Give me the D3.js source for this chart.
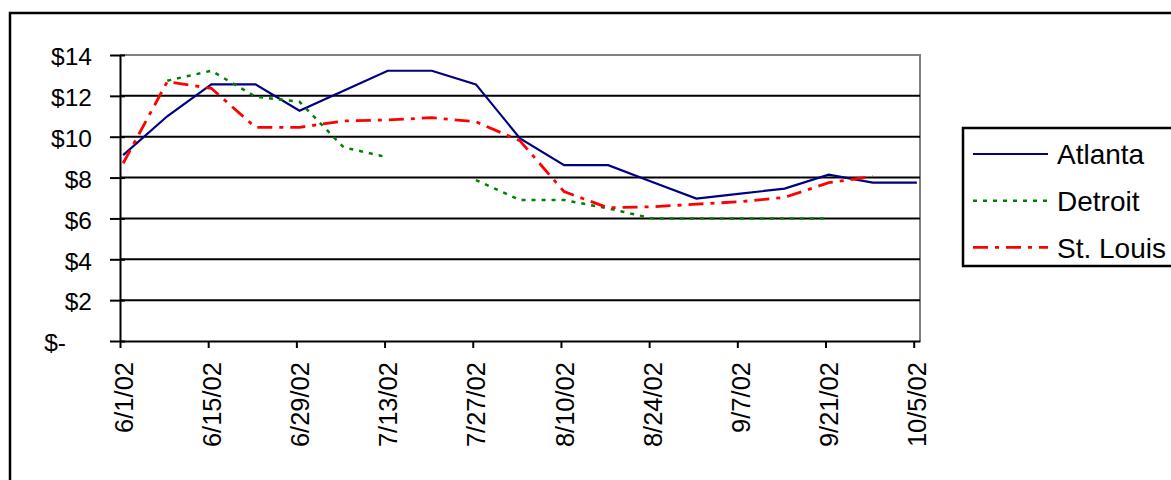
<!DOCTYPE html>
<html>
<head>
<meta charset="utf-8">
<script src="https://cdn.jsdelivr.net/npm/d3@7"></script>
<style>
  body { margin: 0; background: #fff; }
  svg { display: block; font-family: "Liberation Sans", Arial, sans-serif; }
</style>
</head>
<body>
<div class="chart"></div>
<script>
// weekly dates, 6/1/02 .. 10/5/02
var dates = ["2002-06-01","2002-06-08","2002-06-15","2002-06-22","2002-06-29","2002-07-06",
             "2002-07-13","2002-07-20","2002-07-27","2002-08-03","2002-08-10","2002-08-17",
             "2002-08-24","2002-08-31","2002-09-07","2002-09-14","2002-09-21","2002-09-28",
             "2002-10-05"];

var atlanta  = [9.1, 11.0, 12.56, 12.56, 11.27, 12.25, 13.23, 13.23, 12.56, 9.92, 8.61, 8.61,
                7.78, 6.97, 7.21, 7.46, 8.14, 7.75, 7.75];
var detroit  = [null, 12.74, 13.23, 11.96, 11.71, 9.48, 8.99, null, 7.88, 6.9, 6.9, 6.49,
                6.0, 6.0, 6.0, 6.0, 6.0, null, null];
var stlouis  = [8.7, 12.69, 12.37, 10.46, 10.46, 10.77, 10.82, 10.93, 10.73, 9.8, 7.31, 6.52,
                6.57, 6.7, 6.82, 7.03, 7.75, 8.06, null];

var seriesNames = ["Atlanta", "Detroit", "St. Louis"];

var yTicks = [0, 2, 4, 6, 8, 10, 12, 14];
var yTickLabels = ["$-", "$2", "$4", "$6", "$8", "$10", "$12", "$14"];
var xTickDates = ["2002-06-01","2002-06-15","2002-06-29","2002-07-13","2002-07-27","2002-08-10",
                  "2002-08-24","2002-09-07","2002-09-21","2002-10-05"];
var xTickLabels = ["6/1/02","6/15/02","6/29/02","7/13/02","7/27/02","8/10/02",
                   "8/24/02","9/7/02","9/21/02","10/5/02"];

var width = 1171;
var height = 480;
var plotLeft = 120, plotRight = 920, plotTop = 55, plotBottom = 341;

var parse = function(s) { return new Date(s + "T00:00"); };
var halfDay = function(d) { return d3.timeHour.offset(d, 12); };

var xScale = d3.scaleTime()
               .domain([parse("2002-06-01"), parse("2002-10-06")])
               .range([plotLeft, plotRight]);
var yScale = d3.scaleLinear()
               .domain([0, 14])
               .range([plotBottom, plotTop]);

var svg = d3.select(".chart")
            .append("svg")
            .attr("width", width)
            .attr("height", height);

// outer chart border
svg.append("rect")
   .attr("x", 10).attr("y", 13)
   .attr("width", 1300).attr("height", 600)
   .attr("fill", "none")
   .attr("stroke", "#000")
   .attr("stroke-width", 2.5);

// plot area frame (top/right gray)
svg.append("path")
   .attr("d", "M" + plotLeft + "," + plotTop + "H" + plotRight + "V" + plotBottom)
   .attr("fill", "none")
   .attr("stroke", "#808080")
   .attr("stroke-width", 2);

// gridlines
svg.append("g")
   .selectAll("line")
   .data(yTicks.filter(d => d > 0 && d < 14))
   .enter()
   .append("line")
   .attr("x1", plotLeft).attr("x2", plotRight)
   .attr("y1", d => yScale(d)).attr("y2", d => yScale(d))
   .attr("stroke", "#000")
   .attr("stroke-width", 2);

// y axis
var yAxis = d3.axisLeft(yScale)
              .tickValues(yTicks)
              .tickFormat((d, i) => yTickLabels[i])
              .tickSizeInner(10)
              .tickSizeOuter(0);
var gy = svg.append("g")
   .attr("id", "y-axis")
   .attr("transform", "translate(" + plotLeft + ",0)")
   .call(yAxis);
gy.select(".domain").attr("stroke", "#000").attr("stroke-width", 2);
gy.selectAll(".tick line").attr("x2", 5).attr("x1", -10).attr("stroke", "#000").attr("stroke-width", 2);
gy.selectAll(".tick text")
  .attr("font-size", 24.5)
  .attr("font-family", "Liberation Sans, Arial, sans-serif")
  .attr("fill", "#000")
  .attr("x", (d) => d === 0 ? -54 : -28)
  .attr("dy", "0.4em");

// x axis
var xAxis = d3.axisBottom(xScale)
              .tickValues(xTickDates.map(parse))
              .tickFormat((d, i) => xTickLabels[i])
              .tickSizeInner(7)
              .tickSizeOuter(0);
var gx = svg.append("g")
   .attr("id", "x-axis")
   .attr("transform", "translate(0," + plotBottom + ")")
   .call(xAxis);
gx.select(".domain").attr("stroke", "#000").attr("stroke-width", 2);
gx.selectAll(".tick line").attr("stroke", "#000").attr("stroke-width", 2);
gx.selectAll(".tick text")
  .attr("font-size", 25.5)
  .attr("font-family", "Liberation Sans, Arial, sans-serif")
  .attr("fill", "#000")
  .attr("text-anchor", "end")
  .attr("transform", "translate(3,21) rotate(-90)")
  .attr("x", 0)
  .attr("y", 0)
  .attr("dy", "0.36em");

// series lines
var series = [
  { name: seriesNames[0], values: atlanta, color: "#000080", dash: null, w: 2.2 },
  { name: seriesNames[1], values: detroit, color: "#008000", dash: "4,6", w: 2.5 },
  { name: seriesNames[2], values: stlouis, color: "#ff0000", dash: "15,7,4,7", w: 2.8 }
];

var line = d3.line()
             .defined(d => d.v !== null)
             .x(d => xScale(halfDay(d.date)))
             .y(d => yScale(d.v));

series.forEach(function(s) {
  var pts = dates.map((d, i) => ({ date: parse(d), v: s.values[i] }));
  svg.append("path")
     .datum(pts)
     .attr("fill", "none")
     .attr("stroke", s.color)
     .attr("stroke-width", s.w)
     .attr("stroke-dasharray", s.dash)
     .attr("d", line);
});

// legend
var legend = svg.append("g").attr("transform", "translate(963,128)");
legend.append("rect")
      .attr("x", 0).attr("y", 0)
      .attr("width", 260).attr("height", 138)
      .attr("fill", "#fff")
      .attr("stroke", "#000")
      .attr("stroke-width", 2.5);

var item = legend.selectAll(".item")
      .data(series)
      .enter()
      .append("g")
      .attr("class", "item")
      .attr("transform", (d, i) => "translate(0," + (26 + i * 46.7) + ")");
item.append("line")
    .attr("x1", 10).attr("x2", 85)
    .attr("y1", 0).attr("y2", 0)
    .attr("stroke", d => d.color)
    .attr("stroke-width", d => d.w)
    .attr("stroke-dasharray", d => d.dash);
item.append("text")
    .attr("x", 94)
    .attr("y", 0)
    .attr("dy", "0.37em")
    .attr("font-size", 28)
    .attr("fill", "#000")
    .text(d => d.name);
</script>
</body>
</html>
